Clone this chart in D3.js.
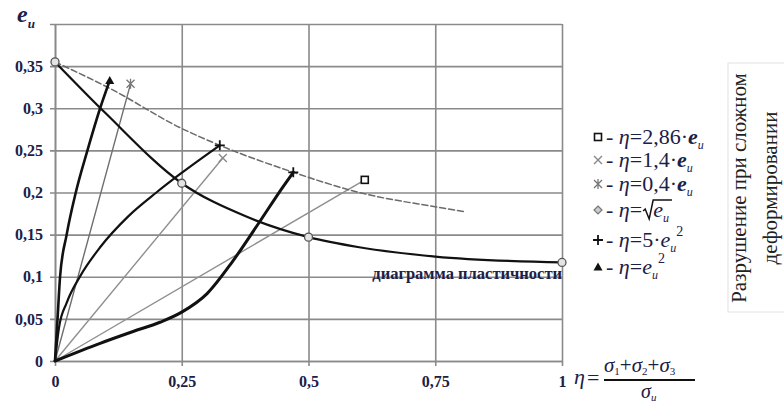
<!DOCTYPE html>
<html><head><meta charset="utf-8">
<script src="https://cdn.jsdelivr.net/npm/d3@7"></script>
<style>
html,body{margin:0;padding:0;background:#fff;}
svg text, svg tspan{font-family:"Liberation Serif","DejaVu Serif",serif !important;}
</style></head>
<body><svg id="c" width="784" height="403" font-family="Liberation Serif"></svg>
<script>
// ---- data (η on horizontal axis, e_и on vertical axis) ----
const xTicks = [0, 0.25, 0.5, 0.75, 1];
const yTicks = [0, 0.05, 0.1, 0.15, 0.2, 0.25, 0.3, 0.35, 0.4];
const yLabelTicks = [0, 0.05, 0.1, 0.15, 0.2, 0.25, 0.3, 0.35];

// plasticity diagram (solid black)
const plastEta = [0, 0.1, 0.25, 0.375, 0.5, 0.6, 0.75, 1];
const plastE   = [0.355, 0.294, 0.211, 0.172, 0.147, 0.135, 0.124, 0.117];
const plastMarkEta = [0, 0.25, 0.5, 1];
const plastMarkE   = [0.355, 0.211, 0.147, 0.117];

// fracture under complex deformation (dashed)
const fracEta = [0, 0.11, 0.25, 0.325, 0.47, 0.6, 0.75, 0.81];
const fracE   = [0.355, 0.323, 0.276, 0.256, 0.224, 0.2, 0.183, 0.177];

// loading paths
const path286Eta = [0, 0.611];      const path286E = [0, 0.215];   // η = 2,86·e
const path14Eta  = [0, 0.331];      const path14E  = [0, 0.241];   // η = 1,4·e
const path04Eta  = [0, 0.149];      const path04E  = [0, 0.329];   // η = 0,4·e
const pathSqrtEta = [0, 0.089, 0.154, 0.207, 0.25, 0.3, 0.35, 0.4, 0.45, 0.47];
const pathSqrtE   = [0, 0.021, 0.035, 0.046, 0.058, 0.08, 0.118, 0.162, 0.207, 0.224];
const path5sqEta = [0, 0.008, 0.023, 0.05, 0.089, 0.145, 0.2, 0.247, 0.325];
const path5sqE   = [0, 0.04, 0.069, 0.101, 0.135, 0.172, 0.2, 0.222, 0.256];
const pathSqEta  = [0, 0.005, 0.01, 0.023, 0.041, 0.064, 0.089, 0.108];
const pathSqE    = [0, 0.05, 0.1, 0.15, 0.2, 0.25, 0.3, 0.333];

const plasticityLabel = "диаграмма пластичности";
const sideLabel1 = "Разрушение при сложном";
const sideLabel2 = "деформировании";

// ---- drawing ----
const FONT = '"Liberation Serif","DejaVu Serif",serif';
const svg = d3.select("#c");
const TXT = "#1c2046";
const x = d3.scaleLinear().domain([0, 1]).range([55, 562]);
const y = d3.scaleLinear().domain([0, 0.4]).range([361, 24]);
const fmt = d => String(d).replace(".", ",");
const W = x(1) - x(0), H = y(0) - y(0.4);

// y axis + horizontal grid
const gy = svg.append("g").attr("transform", `translate(${x(0)},0)`)
  .call(d3.axisLeft(y).tickValues(yTicks).tickSizeInner(-W).tickSizeOuter(0).tickPadding(12).tickFormat(d => yLabelTicks.includes(d) ? fmt(d) : ""));
gy.attr("font-family", FONT);
gy.select(".domain").attr("stroke", "#8a8a8a").attr("stroke-width", 1.6);
gy.selectAll(".tick line").attr("x1", -5).attr("x2", W).attr("stroke", "#8a8a8a").attr("stroke-width", 1.6);
gy.selectAll(".tick text").attr("fill", TXT).style("font-size", "16px").style("font-weight", "bold").style("font-family", FONT);

// x axis + vertical grid
const gx = svg.append("g").attr("transform", `translate(0,${y(0)})`)
  .call(d3.axisBottom(x).tickValues(xTicks).tickSizeInner(-H).tickSizeOuter(0).tickPadding(15).tickFormat(fmt));
gx.attr("font-family", FONT);
gx.select(".domain").attr("stroke", "#8a8a8a").attr("stroke-width", 1.6);
gx.selectAll(".tick line").attr("y1", 5).attr("y2", -H).attr("stroke", "#8a8a8a").attr("stroke-width", 1.6);
gx.selectAll(".tick text").attr("fill", TXT).style("font-size", "16px").style("font-weight", "bold").style("font-family", FONT);

const zip = (a, b) => a.map((v, i) => [v, b[i]]);
const lineC = d3.line().x(d => x(d[0])).y(d => y(d[1])).curve(d3.curveMonotoneX);
const lineL = d3.line().x(d => x(d[0])).y(d => y(d[1]));
const plot = svg.append("g");

function draw(ex, ey, gen, color, w, dash) {
  const p = plot.append("path").datum(zip(ex, ey)).attr("d", gen)
    .attr("fill", "none").attr("stroke", color).attr("stroke-width", w)
    .attr("stroke-linejoin", "round").attr("stroke-linecap", "round");
  if (dash) p.attr("stroke-dasharray", dash);
}
draw(path286Eta, path286E, lineL, "#8f8f8f", 1.4);
draw(path14Eta, path14E, lineL, "#8f8f8f", 1.4);
draw(path04Eta, path04E, lineL, "#6e6e6e", 1.4);
draw(fracEta, fracE, lineC, "#6a6a6a", 1.5, "6,3");
draw(plastEta, plastE, lineC, "#111", 2.2);
draw(pathSqrtEta, pathSqrtE, lineC, "#111", 3);
draw(path5sqEta, path5sqE, lineC, "#111", 2.2);
draw(pathSqEta, pathSqE, lineC, "#111", 2.6);

// marker functions
function mark(g, type, cx, cy) {
  const s = g.append("g").attr("transform", `translate(${cx},${cy})`);
  if (type === "circle") s.append("circle").attr("r", 4).attr("fill", "#e4e4e4").attr("stroke", "#555").attr("stroke-width", 1.3);
  if (type === "square") s.append("rect").attr("x", -3.5).attr("y", -3.5).attr("width", 7).attr("height", 7).attr("fill", "#fff").attr("stroke", "#111").attr("stroke-width", 1.6);
  if (type === "x") s.append("path").attr("d", "M-4,-4L4,4M-4,4L4,-4").attr("stroke", "#888").attr("stroke-width", 1.4);
  if (type === "star") s.append("path").attr("d", "M-4,-4L4,4M-4,4L4,-4M0,-5L0,5").attr("stroke", "#777").attr("stroke-width", 1.3);
  if (type === "plus") s.append("path").attr("d", "M-5,0L5,0M0,-5L0,5").attr("stroke", "#111").attr("stroke-width", 1.8);
  if (type === "tri") s.append("path").attr("d", "M0,-4.5L4.5,3.5L-4.5,3.5Z").attr("fill", "#111");
  if (type === "diamond") s.append("path").attr("d", "M0,-4L4,0L0,4L-4,0Z").attr("fill", "#ccc").attr("stroke", "#777").attr("stroke-width", 1.2);
}
plastMarkEta.forEach((v, i) => mark(plot, "circle", x(v), y(plastMarkE[i])));
mark(plot, "square", x(path286Eta[1]), y(path286E[1]));
mark(plot, "x", x(path14Eta[1]), y(path14E[1]));
mark(plot, "star", x(path04Eta[1]), y(path04E[1]));
mark(plot, "plus", x(pathSqrtEta[pathSqrtEta.length - 1]), y(pathSqrtE[pathSqrtE.length - 1]));
mark(plot, "plus", x(path5sqEta[path5sqEta.length - 1]), y(path5sqE[path5sqE.length - 1]));
mark(plot, "tri", x(pathSqEta[pathSqEta.length - 1]), y(pathSqE[pathSqE.length - 1]));

// plasticity label
svg.append("text").attr("x", x(1)).attr("y", 279).attr("text-anchor", "end")
  .style("font-size", "16.5px").style("font-weight", "bold").attr("fill", TXT).text(plasticityLabel);

// y axis title e_и
const yt = svg.append("text").attr("x", 17).attr("y", 22).attr("fill", TXT).style("font-weight", "bold").style("font-style", "italic");
yt.append("tspan").style("font-size", "24px").text("e");
yt.append("tspan").style("font-size", "13px").attr("dy", 6).text("и");

// x axis formula η = (σ1+σ2+σ3)/σи
const xf = svg.append("g").attr("fill", TXT);
xf.append("text").attr("x", 574).attr("y", 384).style("font-size", "22px").style("font-style", "italic").text("η");
xf.append("text").attr("x", 587).attr("y", 385).style("font-size", "22px").text("=");
const num = xf.append("text").attr("x", 604).attr("y", 372).style("font-size", "21px").style("font-style", "italic");
num.append("tspan").text("σ");
num.append("tspan").style("font-size", "11px").style("font-style", "normal").attr("dy", 3).text("1");
num.append("tspan").style("font-style", "normal").attr("dy", -3).text("+");
num.append("tspan").text("σ");
num.append("tspan").style("font-size", "11px").style("font-style", "normal").attr("dy", 3).text("2");
num.append("tspan").style("font-style", "normal").attr("dy", -3).text("+");
num.append("tspan").text("σ");
num.append("tspan").style("font-size", "11px").style("font-style", "normal").attr("dy", 3).text("3");
xf.append("line").attr("x1", 604).attr("x2", 695).attr("y1", 380).attr("y2", 380).attr("stroke", "#111").attr("stroke-width", 1.8);
const den = xf.append("text").attr("x", 641).attr("y", 398).style("font-size", "20px").style("font-style", "italic");
den.append("tspan").text("σ");
den.append("tspan").style("font-size", "11px").attr("dy", 3).text("и");

// legend
const legRows = [
  {m: "square", y: 137, parts: [["- ", ""], ["η", "i"], ["=2,86·", ""], ["e", "bi"], ["и", "sub"]]},
  {m: "x",      y: 160, parts: [["- ", ""], ["η", "i"], ["=1,4·", ""], ["e", "bi"], ["и", "sub"]]},
  {m: "star",   y: 184, parts: [["- ", ""], ["η", "i"], ["=0,4·", ""], ["e", "bi"], ["и", "sub"]]},
  {m: "diamond",y: 210, parts: [["- ", ""], ["η", "i"], ["=", ""], ["SQRT", ""], ["e", "i"], ["и", "sub"]]},
  {m: "plus",   y: 240, parts: [["- ", ""], ["η", "i"], ["=5·", ""], ["e", "i"], ["и", "sub"], ["2", "sup"]]},
  {m: "tri",    y: 267, parts: [["- ", ""], ["η", "i"], ["=", ""], ["e", "i"], ["и", "sub"], ["2", "sup"]]}
];
const leg = svg.append("g");
legRows.forEach(r => {
  mark(leg, r.m, 598, r.y);
  const t = leg.append("text").attr("x", 606).attr("y", r.y + 7).style("font-size", "22px").attr("fill", TXT);
  let shift = 0, sqrtStart = null;
  r.parts.forEach(([s, st]) => {
    if (s === "SQRT") { sqrtStart = t.node().getComputedTextLength(); t.append("tspan").text("\u2002"); return; }
    const ts = t.append("tspan").text(s);
    if (st === "i") ts.style("font-style", "italic");
    if (st === "bi") ts.style("font-style", "italic").style("font-weight", "bold");
    if (st === "sub") { ts.style("font-size", "12px").style("font-style", "italic").attr("dy", 5 - shift); shift = 5; }
    else if (st === "sup") { ts.style("font-size", "14px").attr("dy", -16); shift = -11; }
    else if (shift !== 0) { ts.attr("dy", -shift); shift = 0; }
  });
  if (sqrtStart !== null) {
    const end = t.node().getComputedTextLength();
    const xs = 606 + sqrtStart;
    leg.append("path").attr("d", `M${xs + 1},${r.y + 1} L${xs + 3},${r.y - 1} L${xs + 7},${r.y + 9} L${xs + 11},${r.y - 10} L${606 + end + 3},${r.y - 10}`)
      .attr("fill", "none").attr("stroke", "#111").attr("stroke-width", 1.5);
  }
});

// side box
svg.append("rect").attr("x", 728).attr("y", 63).attr("width", 60).attr("height", 249)
  .attr("fill", "none").attr("stroke", "#e2e2e2").attr("stroke-width", 1);
svg.append("text").attr("transform", "translate(746,188) rotate(-90)").attr("text-anchor", "middle")
  .style("font-size", "21px").attr("fill", "#222").text(sideLabel1);
svg.append("text").attr("transform", "translate(777,188) rotate(-90)").attr("text-anchor", "middle")
  .style("font-size", "21px").attr("fill", "#222").text(sideLabel2);
</script></body></html>
